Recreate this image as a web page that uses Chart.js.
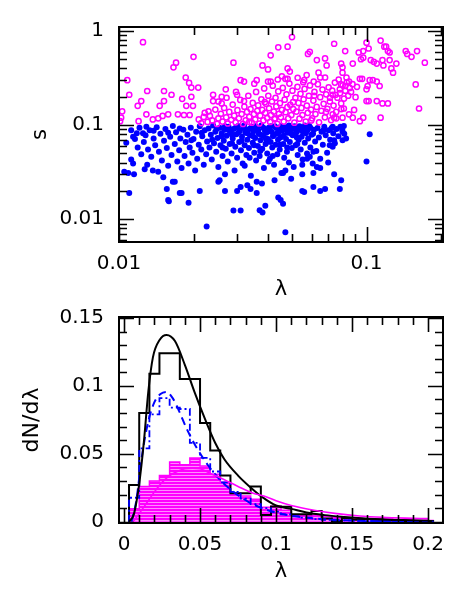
<!DOCTYPE html>
<html>
<head>
<meta charset="utf-8">
<script src="https://cdn.jsdelivr.net/npm/chart.js@4.4.1/dist/chart.umd.min.js"></script>
<style>
  html, body { margin: 0; padding: 0; background: #fff; }
  #wrap { position: relative; width: 463px; height: 594px; overflow: hidden; }
  #bottom { position: absolute; left: 0; top: 290px; }
  #top { position: absolute; left: 0; top: 0; }
</style>
</head>
<body>
<div id="wrap">
  <canvas id="bottom" width="463" height="304"></canvas>
  <canvas id="top" width="463" height="310"></canvas>
</div>
<script>
// ---- top panel: s against lambda ----
// points with s above 0.1 (open rings)
const openPts = [
  [0.0125,0.76],[0.0108,0.30],[0.0110,0.21],[0.0103,0.14],[0.0102,0.12],[0.0101,0.11],[0.0119,0.16],[0.0123,0.18],
  [0.0130,0.23],[0.0129,0.13],[0.0120,0.11],[0.0137,0.115],[0.0144,0.118],[0.0146,0.16],[0.0152,0.18],[0.0152,0.23],
  [0.0163,0.21],[0.0166,0.41],[0.0170,0.46],[0.0158,0.13],[0.0150,0.125],[0.0173,0.13],[0.0180,0.19],[0.0186,0.32],
  [0.0192,0.28],[0.0196,0.25],[0.0209,0.25],[0.0200,0.53],[0.0196,0.20],[0.0199,0.16],[0.0187,0.16],[0.0183,0.128],
  [0.0193,0.128],[0.0210,0.115],[0.0220,0.122],[0.0240,0.21],[0.0240,0.18],[0.0230,0.14],[0.0260,0.20],[0.0270,0.24],
  [0.0260,0.17],[0.0290,0.46],[0.0300,0.21],[0.0310,0.30],[0.0320,0.29],[0.0320,0.18],[0.0360,0.30],[0.0380,0.43],
  [0.0400,0.39],[0.0400,0.29],[0.0410,0.29],[0.0410,0.55],[0.0440,0.67],[0.0480,0.68],[0.0500,0.86],[0.0480,0.40],
  [0.0490,0.37],[0.0470,0.31],[0.0480,0.31],[0.0560,0.30],[0.0580,0.57],[0.0590,0.60],[0.0630,0.49],[0.0680,0.51],
  [0.0690,0.43],[0.0640,0.36],[0.0650,0.32],[0.0680,0.32],[0.0740,0.73],[0.0790,0.45],[0.0800,0.41],[0.0820,0.61],
  [0.0880,0.45],[0.0800,0.36],[0.0830,0.32],[0.0850,0.29],[0.0820,0.26],[0.0930,0.59],[0.0970,0.61],[0.0950,0.50],
  [0.0970,0.52],[0.1000,0.75],[0.1020,0.65],[0.0940,0.31],[0.0960,0.31],[0.1030,0.30],[0.1060,0.30],[0.1100,0.29],
  [0.1040,0.49],[0.1070,0.47],[0.1100,0.45],[0.1140,0.79],[0.1180,0.68],[0.1200,0.68],[0.1220,0.61],[0.1240,0.59],
  [0.1160,0.49],[0.1170,0.43],[0.1240,0.49],[0.1260,0.40],[0.1280,0.36],[0.1320,0.45],[0.1130,0.26],[0.1000,0.24],
  [0.1010,0.26],[0.1000,0.18],[0.1020,0.18],[0.1100,0.18],[0.1160,0.17],[0.1220,0.17],[0.1140,0.12],[0.1440,0.61],
  [0.1460,0.57],[0.1520,0.53],[0.1600,0.61],[0.1580,0.27],[0.1720,0.46],[0.1630,0.15],[0.0790,0.17],[0.0810,0.15],
  [0.0800,0.12],[0.0850,0.13],[0.0880,0.12],[0.0940,0.11],[0.0970,0.12],[0.0740,0.12],[0.0730,0.13],[0.0730,0.21],
  [0.0750,0.21],[0.0780,0.24],[0.0790,0.27],
  [0.0215,0.105],[0.0222,0.135],[0.0228,0.108],[0.0233,0.125],[0.0238,0.112],[0.0245,0.146],[0.0249,0.103],[0.0252,0.118],
  [0.0258,0.132],[0.0262,0.109],[0.0266,0.152],[0.0271,0.121],[0.0275,0.104],[0.0279,0.138],[0.0284,0.114],[0.0288,0.165],
  [0.0292,0.126],[0.0296,0.107],[0.0301,0.144],[0.0305,0.118],[0.0309,0.185],[0.0313,0.131],[0.0317,0.103],[0.0321,0.157],
  [0.0325,0.112],[0.0329,0.138],[0.0333,0.205],[0.0336,0.122],[0.0340,0.148],[0.0344,0.106],[0.0347,0.172],[0.0351,0.131],
  [0.0355,0.115],[0.0358,0.225],[0.0362,0.142],[0.0365,0.162],[0.0369,0.104],[0.0372,0.126],[0.0376,0.188],[0.0379,0.145],
  [0.0383,0.112],[0.0386,0.245],[0.0390,0.135],[0.0393,0.168],[0.0397,0.119],[0.0401,0.205],[0.0404,0.151],[0.0408,0.108],
  [0.0411,0.128],[0.0415,0.178],[0.0418,0.262],[0.0422,0.139],[0.0425,0.116],[0.0429,0.195],[0.0432,0.158],[0.0436,0.103],
  [0.0440,0.228],[0.0443,0.132],[0.0447,0.171],[0.0451,0.121],[0.0455,0.145],[0.0459,0.248],[0.0463,0.109],[0.0467,0.186],
  [0.0471,0.137],[0.0475,0.212],[0.0479,0.155],[0.0483,0.118],[0.0488,0.276],[0.0492,0.164],[0.0497,0.128],[0.0502,0.232],
  [0.0506,0.148],[0.0511,0.106],[0.0516,0.195],[0.0521,0.139],[0.0526,0.255],[0.0531,0.172],[0.0536,0.117],[0.0541,0.215],
  [0.0546,0.152],[0.0551,0.128],[0.0557,0.188],[0.0562,0.242],[0.0568,0.109],[0.0574,0.161],[0.0579,0.135],[0.0585,0.205],
  [0.0591,0.264],[0.0597,0.146],[0.0603,0.118],[0.0610,0.182],[0.0616,0.225],[0.0622,0.131],[0.0629,0.156],[0.0636,0.272],
  [0.0643,0.107],[0.0650,0.198],[0.0657,0.142],[0.0664,0.238],[0.0671,0.168],[0.0679,0.121],[0.0687,0.212],[0.0695,0.149],
  [0.0703,0.252],[0.0711,0.178],[0.0719,0.113],[0.0727,0.232],[0.0736,0.161],[0.0745,0.283],[0.0754,0.138],[0.0763,0.195],
  [0.0772,0.305],[0.0781,0.218],[0.0791,0.148],[0.0801,0.265],[0.0811,0.191],[0.0821,0.232],[0.0832,0.285],[0.0843,0.205],
  [0.0855,0.248],[0.0866,0.225],[0.0878,0.272],[0.0891,0.145],[0.0903,0.198],[0.0915,0.255],[0.0352,0.275],[0.0438,0.305],
  [0.0527,0.318],[0.0573,0.34],[0.0612,0.29],[0.0455,0.33],[0.0388,0.175],[0.0272,0.195],[0.0297,0.225],[0.0252,0.178],
  [0.0615,0.205],[0.0712,0.195],[0.0555,0.285],[0.0505,0.175],[0.0686,0.138],[0.0755,0.118],[0.0598,0.112],[0.0427,0.118],
  [0.0336,0.108]
];

// points with s below 0.1 (filled dots)
const filledPts = [
  [0.0107,0.065],[0.0105,0.032],[0.0109,0.031],[0.0115,0.030],[0.0110,0.019],[0.0112,0.043],[0.0114,0.039],[0.0114,0.075],
  [0.0118,0.082],[0.0125,0.082],[0.0129,0.096],[0.0127,0.034],[0.0130,0.038],[0.0137,0.033],[0.0144,0.032],[0.0151,0.028],
  [0.0156,0.021],[0.0158,0.016],[0.0159,0.0155],[0.0165,0.025],[0.0168,0.025],[0.0176,0.019],[0.0179,0.019],[0.0191,0.015],
  [0.0212,0.020],[0.0226,0.0084],[0.0252,0.025],[0.0255,0.026],[0.0268,0.020],[0.0290,0.0124],[0.0310,0.0124],[0.0300,0.020],
  [0.0310,0.022],[0.0370,0.0125],[0.0380,0.0118],[0.0390,0.0139],[0.0360,0.019],[0.0360,0.025],[0.0340,0.021],[0.0330,0.023],
  [0.0440,0.017],[0.0460,0.0146],[0.0450,0.016],[0.0470,0.0073],[0.0550,0.020],[0.0560,0.0195],[0.0610,0.022],[0.0650,0.020],
  [0.0680,0.021],[0.0740,0.030],[0.0780,0.021],[0.0790,0.026],[0.1000,0.041],[0.1030,0.080],[0.0610,0.031],[0.0650,0.035],
  [0.0550,0.030],[0.0460,0.031],[0.0470,0.033],[0.0740,0.069],[0.0800,0.069],[0.0730,0.059],[0.0710,0.061],[0.0810,0.098],
  [0.0800,0.085],[0.0730,0.096],[0.0670,0.088],[0.0590,0.046],[0.0610,0.052],[0.0550,0.038],
  [0.0112,0.088],[0.0116,0.071],[0.0119,0.058],[0.0121,0.094],[0.0123,0.049],[0.0126,0.066],[0.0128,0.078],[0.0131,0.055],
  [0.0133,0.088],[0.0135,0.046],[0.0138,0.072],[0.0140,0.061],[0.0142,0.095],[0.0145,0.052],[0.0147,0.081],[0.0149,0.042],
  [0.0152,0.068],[0.0154,0.091],[0.0156,0.057],[0.0158,0.037],[0.0161,0.075],[0.0163,0.048],[0.0165,0.098],[0.0168,0.063],
  [0.0170,0.084],[0.0172,0.041],[0.0175,0.054],[0.0177,0.072],[0.0179,0.035],[0.0182,0.089],[0.0184,0.047],[0.0186,0.066],
  [0.0189,0.079],[0.0191,0.039],[0.0193,0.058],[0.0195,0.094],[0.0198,0.051],[0.0200,0.071],[0.0203,0.033],[0.0205,0.085],
  [0.0207,0.044],[0.0210,0.062],[0.0212,0.097],[0.0215,0.055],[0.0217,0.076],[0.0220,0.038],[0.0222,0.088],[0.0225,0.049],
  [0.0227,0.067],[0.0230,0.092],[0.0232,0.058],[0.0235,0.079],[0.0237,0.043],[0.0240,0.099],[0.0242,0.064],[0.0245,0.085],
  [0.0247,0.052],[0.0250,0.073],[0.0252,0.036],[0.0255,0.094],[0.0257,0.061],[0.0260,0.082],[0.0262,0.047],[0.0265,0.068],
  [0.0267,0.089],[0.0270,0.056],[0.0272,0.077],[0.0275,0.041],[0.0277,0.096],[0.0280,0.063],[0.0283,0.084],[0.0285,0.050],
  [0.0288,0.072],[0.0290,0.091],[0.0293,0.033],[0.0295,0.059],[0.0298,0.080],[0.0300,0.045],[0.0303,0.098],[0.0306,0.066],
  [0.0308,0.087],[0.0311,0.054],[0.0314,0.075],[0.0316,0.039],[0.0319,0.093],[0.0322,0.061],[0.0324,0.083],[0.0327,0.048],
  [0.0330,0.070],[0.0333,0.090],[0.0335,0.057],[0.0338,0.078],[0.0341,0.029],[0.0344,0.096],[0.0347,0.065],[0.0350,0.086],
  [0.0352,0.051],[0.0355,0.073],[0.0358,0.042],[0.0361,0.092],[0.0364,0.060],[0.0367,0.081],[0.0370,0.047],[0.0373,0.069],
  [0.0376,0.099],[0.0379,0.056],[0.0382,0.077],[0.0385,0.035],[0.0388,0.088],[0.0391,0.063],[0.0394,0.083],[0.0397,0.050],
  [0.0400,0.071],[0.0403,0.094],[0.0407,0.044],[0.0410,0.066],[0.0413,0.085],[0.0416,0.058],[0.0419,0.076],[0.0423,0.038],
  [0.0426,0.097],[0.0429,0.062],[0.0432,0.081],[0.0436,0.049],[0.0439,0.070],[0.0442,0.091],[0.0446,0.055],[0.0449,0.074],
  [0.0453,0.031],[0.0457,0.087],[0.0461,0.063],[0.0465,0.045],[0.0469,0.095],[0.0473,0.071],[0.0477,0.052],[0.0481,0.083],
  [0.0486,0.040],[0.0490,0.066],[0.0494,0.092],[0.0499,0.057],[0.0503,0.078],[0.0508,0.036],[0.0512,0.097],[0.0517,0.061],
  [0.0522,0.084],[0.0527,0.048],[0.0532,0.070],[0.0537,0.090],[0.0542,0.055],[0.0547,0.075],[0.0552,0.043],[0.0558,0.094],
  [0.0563,0.065],[0.0569,0.082],[0.0575,0.050],[0.0581,0.072],[0.0587,0.098],[0.0593,0.058],[0.0600,0.079],[0.0606,0.039],
  [0.0613,0.089],[0.0620,0.067],[0.0627,0.053],[0.0634,0.093],[0.0642,0.074],[0.0650,0.044],[0.0658,0.085],[0.0666,0.062],
  [0.0675,0.096],[0.0684,0.078],[0.0693,0.051],[0.0703,0.088],[0.0713,0.070],[0.0723,0.093],[0.0734,0.082],[0.0745,0.064],
  [0.0757,0.091],[0.0770,0.076],[0.0784,0.096],[0.0798,0.090],[0.0813,0.081],[0.0827,0.072],
  [0.0238,0.070],[0.0248,0.091],[0.0259,0.076],[0.0268,0.097],[0.0278,0.088],[0.0286,0.079],[0.0296,0.094],[0.0305,0.084],
  [0.0313,0.068],[0.0320,0.099],[0.0331,0.082],[0.0339,0.092],[0.0348,0.076],[0.0356,0.097],[0.0365,0.088],[0.0374,0.079],
  [0.0383,0.094],[0.0392,0.072],[0.0401,0.087],[0.0411,0.097],[0.0421,0.078],[0.0431,0.093],[0.0441,0.083],[0.0452,0.098],
  [0.0463,0.077],[0.0474,0.089],[0.0486,0.099],[0.0497,0.081],[0.0510,0.091],[0.0523,0.074],[0.0536,0.097],[0.0550,0.086],
  [0.0564,0.099],[0.0578,0.088],[0.0593,0.094],[0.0608,0.081],[0.0351,0.061],[0.0372,0.053],[0.0396,0.066],[0.0418,0.047],
  [0.0447,0.062],[0.0478,0.058],[0.0337,0.045],[0.0286,0.064],[0.0262,0.058],[0.0216,0.083],[0.0196,0.069],[0.0176,0.092],
  [0.0158,0.083],[0.0138,0.087],[0.0322,0.037],[0.0402,0.041],[0.0525,0.063],[0.0575,0.044],[0.0630,0.036],[0.0700,0.040],
  [0.0496,0.027],[0.0425,0.026],[0.0378,0.024],[0.0268,0.030]
];

const topXLabels = [0.01, 0.1];
const topXMinor = [0.02, 0.03, 0.04, 0.05, 0.06, 0.07, 0.08, 0.09, 0.2];
const topYLabels = [0.01, 0.1, 1];
const topYMinor = [0.006, 0.007, 0.008, 0.009, 0.02, 0.03, 0.04, 0.05, 0.06, 0.07, 0.08, 0.09,
                   0.2, 0.3, 0.4, 0.5, 0.6, 0.7, 0.8, 0.9];

// ---- bottom panel: dN/dlambda ----
const binEdges = [0.0033, 0.0100, 0.0167, 0.0233, 0.0300, 0.0367, 0.0433, 0.0500, 0.0567, 0.0633,
                  0.0700, 0.0767, 0.0833, 0.0900, 0.0967, 0.1033, 0.1100, 0.1167, 0.1233, 0.1300,
                  0.1367, 0.1433, 0.1500, 0.1567, 0.1633, 0.1700, 0.1767, 0.1833, 0.1900, 0.1967, 0.2033];
const histAll = [0.027, 0.080, 0.109, 0.124, 0.124, 0.105, 0.105, 0.0727, 0.0525, 0.034,
                 0.021, 0.021, 0.026, 0.005, 0.0113, 0.011, 0.0055, 0.0055, 0.008, 0.0024,
                 0.0005, 0.0027, 0.0014, 0.002, 0.0014, 0.001, 0.001, 0.0005, 0.0005, 0.0005];
const histOpen = [0.0095, 0.026, 0.030, 0.034, 0.044, 0.042, 0.047, 0.041, 0.035, 0.029,
                  0.021, 0.019, 0.0165, 0.0107, 0.0115, 0.0084, 0.005, 0.005, 0.005, 0.004,
                  0.003, 0.003, 0.0025, 0.002, 0.002, 0.002, 0.0015, 0.0015, 0.001, 0.001];
const histFilled = [0.0177, 0.054, 0.079, 0.091, 0.084, 0.083, 0.058, 0.047, 0.037, 0.029,
                    0.022, 0.017, 0.013, 0.010, 0.0075, 0.0055, 0.004, 0.003, 0.002, 0.0015,
                    0.001, 0.001, 0.0007, 0.0005, 0.0004, 0.0003, 0.0002, 0.0002, 0.0001, 0.0001];

const fitAllX = [0.0033, 0.0066, 0.010, 0.013, 0.016, 0.019, 0.0235, 0.028, 0.0335, 0.040, 0.0467, 0.0533,
                 0.060, 0.066, 0.075, 0.084, 0.0905, 0.100, 0.110, 0.120, 0.132, 0.145, 0.154, 0.165, 0.176, 0.190, 0.200];
const fitAllY = [0, 0.006, 0.028, 0.058, 0.096, 0.121, 0.134, 0.1375, 0.133, 0.1155, 0.0945, 0.0755,
                 0.058, 0.046, 0.034, 0.0245, 0.0185, 0.012, 0.0095, 0.0068, 0.0049, 0.0035, 0.0027, 0.002, 0.0015, 0.0011, 0.0009];
const fitFilledX = [0.005, 0.008, 0.012, 0.016, 0.020, 0.024, 0.028, 0.032, 0.036, 0.041, 0.047, 0.055,
                    0.063, 0.072, 0.082, 0.092, 0.105, 0.120, 0.135, 0.150, 0.170, 0.200];
const fitFilledY = [0, 0.015, 0.050, 0.074, 0.088, 0.094, 0.0955, 0.091, 0.082, 0.069, 0.056, 0.042,
                    0.031, 0.022, 0.0145, 0.0095, 0.0055, 0.003, 0.0016, 0.0009, 0.0004, 0.0002];
const fitOpenX = [0.006, 0.010, 0.015, 0.020, 0.025, 0.030, 0.035, 0.040, 0.045, 0.050, 0.058, 0.066,
                  0.075, 0.085, 0.092, 0.100, 0.110, 0.125, 0.140, 0.155, 0.170, 0.185, 0.200];
const fitOpenY = [0, 0.006, 0.014, 0.022, 0.029, 0.034, 0.037, 0.039, 0.0395, 0.039, 0.035, 0.031,
                  0.026, 0.021, 0.019, 0.0155, 0.012, 0.0085, 0.006, 0.0043, 0.0033, 0.0027, 0.0023];

const botXLabels = [0, 0.05, 0.1, 0.15, 0.2];
const botXMinor = [0.01, 0.02, 0.03, 0.04, 0.06, 0.07, 0.08, 0.09, 0.11, 0.12, 0.13, 0.14,
                   0.16, 0.17, 0.18, 0.19];
const botYLabels = [0, 0.05, 0.1, 0.15];
const botYMinor = [0.01, 0.02, 0.03, 0.04, 0.06, 0.07, 0.08, 0.09, 0.11, 0.12, 0.13, 0.14];

const MAGENTA = '#ff00ff';
const BLUE = '#0000ff';
const FONT = 'DejaVu Sans';

// 画框和内侧刻度
const frameTicks = {
  id: 'frameTicks',
  afterDatasetsDraw(chart, args, opts) {
    const { ctx, chartArea: a, scales: { x, y } } = chart;
    ctx.save();
    ctx.strokeStyle = '#000';
    ctx.lineWidth = 1.6;
    ctx.beginPath();
    const xt = (vals, len) => vals.forEach(v => {
      const px = Math.round(x.getPixelForValue(v)) + 0.5;
      ctx.moveTo(px, a.bottom); ctx.lineTo(px, a.bottom - len);
      ctx.moveTo(px, a.top); ctx.lineTo(px, a.top + len);
    });
    const yt = (vals, len) => vals.forEach(v => {
      const py = Math.round(y.getPixelForValue(v)) + 0.5;
      ctx.moveTo(a.left, py); ctx.lineTo(a.left + len, py);
      ctx.moveTo(a.right, py); ctx.lineTo(a.right - len, py);
    });
    xt(opts.xMajor, 15); xt(opts.xMinor, 8);
    yt(opts.yMajor, 15); yt(opts.yMinor, 8);
    ctx.stroke();
    ctx.lineWidth = 2;
    ctx.strokeRect(a.left, a.top, a.width, a.height);
    ctx.restore();
  }
};

function axis(extra) {
  return Object.assign({
    grid: { display: false, drawTicks: false },
    border: { display: false },
    ticks: { color: '#000', font: { family: FONT, size: 20 }, autoSkip: false, maxRotation: 0 }
  }, extra);
}

function fixTicks(list) {
  return s => { s.ticks = list.map(v => ({ value: v })); };
}

function toPts(pairs) {
  return pairs.map(p => ({ x: p[0], y: p[1] }));
}

function zip(xs, ys) {
  return xs.map((v, i) => ({ x: v, y: ys[i] }));
}

// 直方图的阶梯轮廓
function histPts(edges, vals) {
  const pts = [{ x: edges[0], y: 0 }];
  vals.forEach((v, i) => pts.push({ x: edges[i], y: v }));
  pts.push({ x: edges[vals.length], y: vals[vals.length - 1] });
  pts.push({ x: edges[vals.length], y: 0 });
  return pts;
}

function hatch(ctx) {
  const c = document.createElement('canvas');
  c.width = 4; c.height = 3;
  const g = c.getContext('2d');
  g.fillStyle = MAGENTA; g.fillRect(0, 0, 4, 3);
  g.fillStyle = '#ff8cff'; g.fillRect(0, 2, 4, 1);
  return ctx.createPattern(c, 'repeat');
}

Chart.defaults.font.family = FONT;

// 上图
const topYAxis = axis({
  type: 'logarithmic', min: 0.00574, max: 1.1,
  afterBuildTicks: fixTicks(topYLabels),
  afterFit: s => { s.width = 119; },
  title: { display: true, text: 's', color: '#000', font: { family: FONT, size: 21 }, padding: { top: 28, bottom: 0 } }
});
topYAxis.ticks.padding = 15;
topYAxis.ticks.callback = v => String(v);

const topXAxis = axis({
  type: 'logarithmic', min: 0.01, max: 0.2037,
  afterBuildTicks: fixTicks(topXLabels),
  afterFit: s => { s.height = 68; },
  title: { display: true, text: 'λ', color: '#000', font: { family: FONT, size: 21 }, padding: { top: 0, bottom: 8 } }
});
topXAxis.ticks.padding = 10;
topXAxis.ticks.callback = v => String(v);

new Chart(document.getElementById('top'), {
  type: 'scatter',
  data: {
    datasets: [
      {
        data: toPts(openPts),
        pointRadius: 2.6, pointBorderWidth: 1.5,
        borderColor: MAGENTA, backgroundColor: 'rgba(0,0,0,0)',
        pointBorderColor: MAGENTA, pointBackgroundColor: 'rgba(0,0,0,0)'
      },
      {
        data: toPts(filledPts),
        pointRadius: 3.0, pointBorderWidth: 0,
        backgroundColor: BLUE, pointBackgroundColor: BLUE, borderColor: BLUE
      }
    ]
  },
  options: {
    responsive: false, animation: false, devicePixelRatio: 1,
    layout: { padding: { top: 27, right: 20, left: 0, bottom: 0 } },
    plugins: {
      legend: { display: false }, tooltip: { enabled: false },
      frameTicks: { xMajor: topXLabels, xMinor: topXMinor, yMajor: topYLabels, yMinor: topYMinor }
    },
    scales: { x: topXAxis, y: topYAxis }
  },
  plugins: [frameTicks]
});

// 下图
const botCanvas = document.getElementById('bottom');

const botYAxis = axis({
  type: 'linear', min: -0.0009, max: 0.1507,
  afterBuildTicks: fixTicks(botYLabels),
  afterFit: s => { s.width = 119; },
  title: { display: true, text: 'dN/dλ', color: '#000', font: { family: FONT, size: 22 }, padding: { top: 19, bottom: 0 } }
});
botYAxis.ticks.padding = 15;
botYAxis.ticks.callback = v => String(v);

const botXAxis = axis({
  type: 'linear', min: -0.0033, max: 0.2098,
  afterBuildTicks: fixTicks(botXLabels),
  afterFit: s => { s.height = 71; },
  title: { display: true, text: 'λ', color: '#000', font: { family: FONT, size: 21 }, padding: { top: 0, bottom: 10 } }
});
botXAxis.ticks.padding = 10;
botXAxis.ticks.callback = v => String(v);

const line = (data, color, width, dash, extra) => Object.assign({
  data, borderColor: color, borderWidth: width, borderDash: dash,
  pointRadius: 0, fill: false, backgroundColor: color
}, extra);

new Chart(botCanvas, {
  type: 'line',
  data: {
    datasets: [
      line(zip(fitOpenX, fitOpenY), MAGENTA, 1.6, [], { cubicInterpolationMode: 'monotone' }),
      line(zip(fitAllX, fitAllY), '#000', 2, [], { cubicInterpolationMode: 'monotone' }),
      line(zip(fitFilledX, fitFilledY), BLUE, 2, [8, 5], { cubicInterpolationMode: 'monotone' }),
      line(histPts(binEdges, histFilled), BLUE, 1.8, [7, 3, 2, 3], { stepped: 'before' }),
      line(histPts(binEdges, histAll), '#000', 2, [], { stepped: 'before' }),
      line(histPts(binEdges, histOpen), MAGENTA, 1.5, [], {
        stepped: 'before', fill: 'origin', backgroundColor: hatch(botCanvas.getContext('2d'))
      })
    ]
  },
  options: {
    responsive: false, animation: false, devicePixelRatio: 1,
    layout: { padding: { top: 16, right: 20, left: 0, bottom: 0 } },
    plugins: {
      legend: { display: false }, tooltip: { enabled: false },
      frameTicks: { xMajor: botXLabels, xMinor: botXMinor, yMajor: botYLabels, yMinor: botYMinor }
    },
    scales: { x: botXAxis, y: botYAxis }
  },
  plugins: [frameTicks]
});
</script>
</body>
</html>
